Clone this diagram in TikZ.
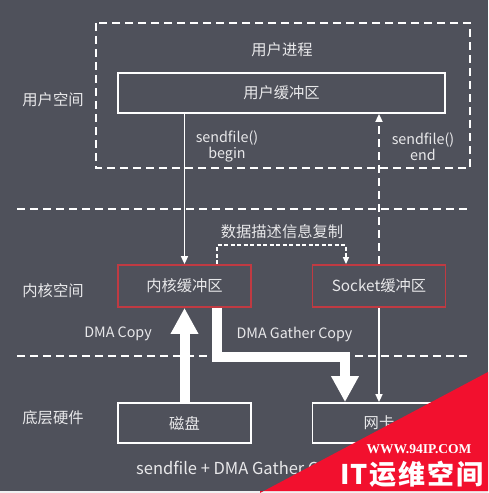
\documentclass[tikz,border=0pt]{standalone}
\usepackage{fontspec}
\setmainfont{Noto Sans CJK SC}
\newfontfamily\wmserif{Liberation Serif}
\usetikzlibrary{arrows.meta}
\definecolor{bg}{HTML}{4F515B}
\definecolor{txt}{HTML}{E8E8EA}
\definecolor{redbox}{HTML}{C03A42}
\definecolor{wmred}{HTML}{F2102E}
\tikzset{
  lbl/.style={text=txt, font=\fontsize{15.3}{18}\selectfont, inner sep=0pt},
  latin/.style={text=txt, font=\fontsize{14.3}{17}\selectfont, inner sep=0pt, align=center},
  whitebox/.style={draw=white, line width=1.8pt, text=txt, font=\fontsize{15.3}{18}\selectfont, inner sep=0pt, minimum height=40pt},
  redbx/.style={draw=redbox, line width=1.8pt, text=txt, font=\fontsize{15.3}{18}\selectfont, inner sep=0pt, minimum width=133pt, minimum height=42pt},
  dashline/.style={draw=white, line width=1.8pt, dash pattern=on 8pt off 5pt},
  thinarrow/.style={draw=white, line width=1.6pt, -{Triangle[width=7pt,length=8pt]}},
  dasharrow/.style={draw=white, line width=1.8pt, dash pattern=on 8pt off 5pt, -{Triangle[width=7pt,length=8pt]}},
  smalldash/.style={draw=white, line width=1.3pt, dash pattern=on 4pt off 2.5pt, -{Triangle[width=6pt,length=7pt]}},
  fatarrow/.style={draw=white, line width=10pt, -{Triangle[width=26pt,length=26pt]}},
}
\begin{document}
\begin{tikzpicture}[x=1pt,y=-1pt]
\fill[bg] (0,0) rectangle (488,493);
\fill[white!92!bg] (0,491) rectangle (488,493);
\useasboundingbox (0,0) rectangle (488,493);

% layers
\draw[dashline] (96,23) rectangle (470,168);
\draw[dashline] (17,209) -- (470,209);
\draw[dashline] (17,356) -- (470,356);

% nodes
\node[lbl] (proc) at (282,50) {用户进程};
\node[whitebox, minimum width=327pt] (ubuf) at (281.5,93) {用户缓冲区};
\node[lbl] (uspace) at (53,100) {用户空间};
\node[lbl] (kspace) at (53,291) {内核空间};
\node[lbl] (hw) at (53,418) {底层硬件};
\node[redbx] (kbuf) at (184.5,286) {内核缓冲区};
\node[redbx] (sbuf) at (379,286) {Socket缓冲区};
\node[whitebox, minimum width=133pt] (disk) at (184.5,423) {磁盘};
\node[whitebox, minimum width=133pt] (nic) at (379,423) {网卡};

\node[latin] (sfb) at (227,146.5) {sendfile()\\[-1pt]begin};
\node[latin] (sfe) at (423,146.5) {sendfile()\\[-1pt]end};
\node[lbl] (desc) at (282,232) {数据描述信息复制};
\node[latin] (dmac) at (118,334) {DMA Copy};
\node[latin] (dmag) at (294.5,334) {DMA Gather Copy};
\node[latin, font=\fontsize{16.5}{19}\selectfont, anchor=west] (cap) at (136,470) {sendfile + DMA Gather Copy};

% connectors
\draw[thinarrow] (ubuf.south -| kbuf.north) -- (kbuf.north);
\draw[dasharrow] (sbuf.north) -- (sbuf.north |- ubuf.south);
\draw[thinarrow] (sbuf.south) -- (nic.north);
\draw[smalldash] ([xshift=32.5pt]kbuf.north) -- ++(0,-19) -| ([xshift=-33pt]sbuf.north);
\draw[fatarrow] (disk.north) -- (kbuf.south);
\draw[fatarrow] ([xshift=32.5pt]kbuf.south) -- ++(0,49) -| ([xshift=-34pt]nic.north);

% watermark
\fill[wmred] (260,493) -- (488,372) -- (488,491) -- (260,491) -- cycle;
\node[text=white, inner sep=0pt, font=\wmserif\bfseries\fontsize{13.5}{16}\selectfont] (wm1) at (419,449) {WWW.94IP.COM};
\node[text=white, inner sep=0pt, font=\bfseries\fontsize{27}{32}\selectfont] (wm2) at (412,474) {IT\hspace{2pt}运\hspace{2pt}维\hspace{2pt}空\hspace{2pt}间};
\end{tikzpicture}
\end{document}
